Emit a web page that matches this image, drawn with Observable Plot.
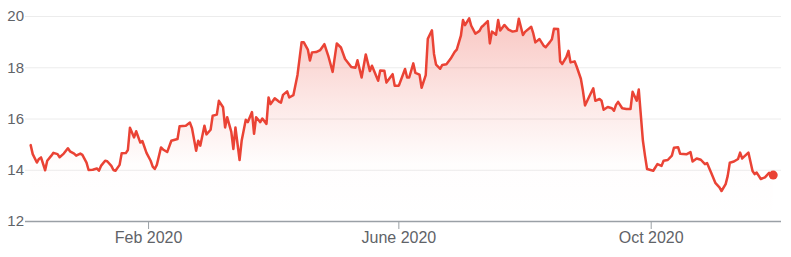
<!DOCTYPE html>
<html>
<head>
<meta charset="utf-8">
<script src="https://cdn.jsdelivr.net/npm/d3@7"></script>
<script src="https://cdn.jsdelivr.net/npm/@observablehq/plot@0.6"></script>
<style>
  html, body { margin: 0; padding: 0; background: #fff; }
</style>
</head>
<body>
<div id="chart"></div>
<script>
// Daily closing values
const dates = [
  "2019-12-06","2019-12-07","2019-12-09","2019-12-10","2019-12-11","2019-12-13","2019-12-14","2019-12-16","2019-12-17","2019-12-19","2019-12-20","2019-12-22","2019-12-24","2019-12-25","2019-12-27","2019-12-28","2019-12-30","2019-12-31",
  "2020-01-02","2020-01-03","2020-01-05","2020-01-07","2020-01-08","2020-01-09","2020-01-11","2020-01-12","2020-01-14","2020-01-15","2020-01-16","2020-01-18","2020-01-19","2020-01-21","2020-01-22","2020-01-23","2020-01-25","2020-01-26","2020-01-28","2020-01-29","2020-01-31",
  "2020-02-02","2020-02-03","2020-02-04","2020-02-05","2020-02-07","2020-02-08","2020-02-10","2020-02-12","2020-02-15","2020-02-16","2020-02-19","2020-02-21","2020-02-22","2020-02-24","2020-02-25","2020-02-26","2020-02-28","2020-02-29",
  "2020-03-02","2020-03-03","2020-03-05","2020-03-06","2020-03-08","2020-03-09","2020-03-10","2020-03-12","2020-03-13","2020-03-14","2020-03-16","2020-03-17","2020-03-19","2020-03-20","2020-03-22","2020-03-23","2020-03-24","2020-03-26","2020-03-27","2020-03-29","2020-03-30","2020-03-31",
  "2020-04-02","2020-04-04","2020-04-05","2020-04-06","2020-04-08","2020-04-09","2020-04-11","2020-04-13","2020-04-15","2020-04-16","2020-04-18","2020-04-19","2020-04-20","2020-04-22","2020-04-24","2020-04-26","2020-04-28","2020-04-30",
  "2020-05-02","2020-05-04","2020-05-06","2020-05-09","2020-05-11","2020-05-12","2020-05-14","2020-05-16","2020-05-18","2020-05-19","2020-05-22","2020-05-23","2020-05-25","2020-05-26","2020-05-29","2020-05-30",
  "2020-06-01","2020-06-04","2020-06-05","2020-06-06","2020-06-08","2020-06-09","2020-06-11","2020-06-12","2020-06-14","2020-06-15","2020-06-17","2020-06-18","2020-06-19","2020-06-21","2020-06-22","2020-06-24","2020-06-26","2020-06-28","2020-06-29",
  "2020-07-01","2020-07-02","2020-07-03","2020-07-05","2020-07-06","2020-07-08","2020-07-10","2020-07-11","2020-07-12","2020-07-14","2020-07-15","2020-07-16","2020-07-18","2020-07-19","2020-07-20","2020-07-22","2020-07-24","2020-07-26","2020-07-28","2020-07-29","2020-07-31",
  "2020-08-01","2020-08-04","2020-08-05","2020-08-06","2020-08-08","2020-08-10","2020-08-11","2020-08-13","2020-08-14","2020-08-15","2020-08-17","2020-08-18","2020-08-19","2020-08-21","2020-08-22","2020-08-23","2020-08-25","2020-08-26","2020-08-28","2020-08-29","2020-08-30",
  "2020-09-01","2020-09-03","2020-09-04","2020-09-06","2020-09-07","2020-09-08","2020-09-10","2020-09-12","2020-09-13","2020-09-14","2020-09-15","2020-09-17","2020-09-19","2020-09-21","2020-09-22","2020-09-24","2020-09-25","2020-09-27","2020-09-28","2020-09-29",
  "2020-10-02","2020-10-04","2020-10-06","2020-10-07","2020-10-09","2020-10-11","2020-10-12","2020-10-14","2020-10-15","2020-10-18","2020-10-20","2020-10-21","2020-10-23","2020-10-25","2020-10-27","2020-10-28","2020-10-30",
  "2020-11-01","2020-11-03","2020-11-04","2020-11-06","2020-11-07","2020-11-08","2020-11-10","2020-11-12","2020-11-13","2020-11-14","2020-11-17","2020-11-19","2020-11-20","2020-11-21","2020-11-23","2020-11-25","2020-11-27","2020-11-29"
];
const prices = [
  14.98,14.63,14.30,14.44,14.50,14.00,14.37,14.57,14.68,14.63,14.51,14.65,14.86,14.74,14.65,14.57,14.65,14.60,
  14.30,14.01,14.02,14.07,13.98,14.17,14.37,14.35,14.17,14.01,13.98,14.21,14.66,14.67,14.79,15.66,15.28,15.52,15.08,15.14,14.68,
  14.37,14.14,14.05,14.21,14.89,14.81,14.71,15.15,15.22,15.72,15.74,15.86,15.64,14.76,15.15,14.96,15.74,15.40,
  15.58,16.13,16.17,16.71,16.46,15.67,16.07,15.50,14.83,15.67,14.40,15.15,15.97,15.88,16.27,15.42,16.07,15.88,16.02,15.81,16.84,16.58,
  16.81,16.68,16.64,16.94,17.08,16.84,16.93,17.72,19.00,19.00,18.71,18.28,18.60,18.61,18.69,18.92,18.43,17.84,
  18.95,18.79,18.34,18.03,18.00,18.29,17.62,18.52,17.87,18.08,17.49,17.89,17.88,17.42,17.75,17.30,
  17.30,17.95,17.62,17.62,18.17,17.80,17.73,17.22,17.71,19.13,19.46,18.54,18.12,17.96,18.11,18.14,18.35,18.62,18.71,
  19.25,19.86,19.66,19.93,19.64,19.33,19.44,19.59,19.66,19.82,18.95,19.41,19.29,19.86,19.45,19.67,19.49,19.41,19.44,19.91,19.28,
  19.40,19.60,19.34,18.99,19.12,18.86,18.80,19.00,19.11,19.52,19.51,18.25,18.15,18.42,18.66,18.21,18.25,18.04,17.57,17.10,16.53,
  16.87,17.20,16.71,16.78,16.71,16.36,16.47,16.42,16.32,16.55,16.67,16.42,16.39,16.39,17.06,16.71,17.15,15.15,14.57,14.05,
  13.98,14.24,14.17,14.37,14.40,14.57,14.88,14.90,14.64,14.62,14.71,14.34,14.46,14.41,14.24,14.28,13.90,
  13.51,13.33,13.19,13.46,13.78,14.29,14.34,14.44,14.69,14.46,14.69,13.97,13.85,13.91,13.66,13.72,13.90,13.81
];
const yTicks = [12, 14, 16, 18, 20];
const gridValues = [14, 16, 18, 20];
const xTickDates = ["2020-02-01", "2020-06-01", "2020-10-01"];
const xTickLabels = ["Feb 2020", "June 2020", "Oct 2020"];
const xDomain = ["2019-12-03T12:00:00Z", "2020-12-03T00:00:00Z"];
const baseline = 12;

const data = dates.map((d, i) => ({date: new Date(d + "T00:00:00Z"), price: prices[i]}));
const last = data[data.length - 1];
const red = "#ea4335";

function gradientDefs() {
  const ns = "http://www.w3.org/2000/svg";
  const defs = document.createElementNS(ns, "defs");
  const g = document.createElementNS(ns, "linearGradient");
  g.setAttribute("id", "priceFill");
  g.setAttribute("x1", "0"); g.setAttribute("y1", "0");
  g.setAttribute("x2", "0"); g.setAttribute("y2", "1");
  [[0, 0.3], [0.4, 0.13], [0.72, 0.01], [1, 0]].forEach(([o, a]) => {
    const s = document.createElementNS(ns, "stop");
    s.setAttribute("offset", o);
    s.setAttribute("stop-color", red);
    s.setAttribute("stop-opacity", a);
    g.appendChild(s);
  });
  defs.appendChild(g);
  return defs;
}

const chart = Plot.plot({
  width: 791,
  height: 257,
  marginLeft: 25,
  marginRight: 10,
  marginTop: 16,
  marginBottom: 36,
  style: {fontFamily: "'Liberation Sans', Arial, sans-serif", background: "#fff", overflow: "visible"},
  x: {type: "utc", domain: xDomain.map(d => new Date(d))},
  y: {domain: [12, 20]},
  marks: [
    gradientDefs,
    Plot.gridY(gridValues, {stroke: "#ececec", strokeOpacity: 1, strokeWidth: 1}),
    Plot.areaY(data, {x: "date", y1: baseline, y2: "price", fill: "url(#priceFill)"}),
    Plot.ruleY([baseline], {stroke: "#9aa0a6", strokeWidth: 1.5}),
    Plot.axisY(yTicks, {tickSize: 0, tickPadding: 1.5, fontSize: 15, color: "#5f6368", label: null}),
    Plot.axisX(xTickDates.map(d => new Date(d + "T00:00:00Z")), {
      tickSize: 8, tickPadding: 2, fontSize: 16, color: "#5f6368", stroke: "#9aa0a6", label: null,
      tickFormat: d => xTickLabels[xTickDates.indexOf(d.toISOString().slice(0, 10))]
    }),
    Plot.lineY(data, {x: "date", y: "price", stroke: red, strokeWidth: 2.5, strokeLinejoin: "round"}),
    Plot.dot([last], {x: "date", y: "price", r: 4.5, fill: red, stroke: "none"})
  ]
});
document.getElementById("chart").appendChild(chart);
</script>
</body>
</html>
